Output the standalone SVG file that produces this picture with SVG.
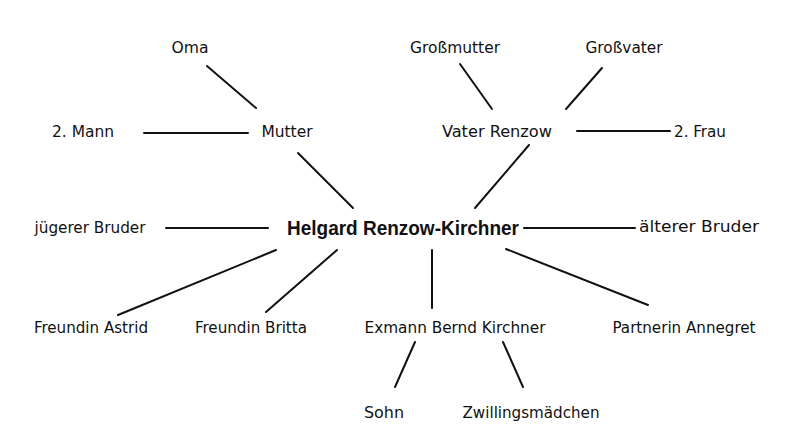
<svg xmlns="http://www.w3.org/2000/svg" width="785" height="448" viewBox="0 0 785 448">
<style>
text{font-family:"DejaVu Sans Condensed","Liberation Sans Narrow","Liberation Sans",sans-serif;font-stretch:condensed;font-size:16px;fill:#111;text-anchor:middle}
text.main{font-family:"Liberation Sans","DejaVu Sans",sans-serif;font-stretch:normal;font-weight:bold;font-size:20px}
line{stroke:#111;stroke-width:2;stroke-linecap:round}
</style>
<rect width="785" height="448" fill="#fff"/>
<g id="connectors">
<line x1="207" y1="66" x2="256" y2="108"/>
<line x1="460" y1="64" x2="492" y2="109"/>
<line x1="602" y1="68" x2="566" y2="109"/>
<line x1="144" y1="133" x2="248" y2="133"/>
<line x1="577" y1="131" x2="670" y2="131"/>
<line x1="298" y1="153" x2="353" y2="208"/>
<line x1="529" y1="145" x2="475" y2="208"/>
<line x1="166" y1="228" x2="268" y2="228"/>
<line x1="524" y1="228" x2="635" y2="228"/>
<line x1="276" y1="250" x2="118" y2="315"/>
<line x1="337" y1="250" x2="266" y2="312"/>
<line x1="432" y1="250" x2="432" y2="308"/>
<line x1="506" y1="249" x2="648" y2="305"/>
<line x1="415" y1="342" x2="395" y2="387"/>
<line x1="503" y1="342" x2="523" y2="387"/>
</g>
<g id="oma"><text x="190" y="53" textLength="37" lengthAdjust="spacingAndGlyphs">Oma</text></g>
<g id="grossmutter"><text x="455" y="53" textLength="90" lengthAdjust="spacingAndGlyphs">Großmutter</text></g>
<g id="grossvater"><text x="624" y="53" textLength="77" lengthAdjust="spacingAndGlyphs">Großvater</text></g>
<g id="mann2"><text x="83" y="137" textLength="62" lengthAdjust="spacingAndGlyphs">2. Mann</text></g>
<g id="mutter"><text x="287" y="137" textLength="51" lengthAdjust="spacingAndGlyphs">Mutter</text></g>
<g id="vater"><text x="497" y="137" textLength="110" lengthAdjust="spacingAndGlyphs">Vater Renzow</text></g>
<g id="frau2"><text x="700" y="137" textLength="52" lengthAdjust="spacingAndGlyphs">2. Frau</text></g>
<g id="juengerer"><text x="90" y="233" textLength="111" lengthAdjust="spacingAndGlyphs">jügerer Bruder</text></g>
<g id="helgard"><text class="main" x="403" y="235" textLength="232" lengthAdjust="spacingAndGlyphs">Helgard Renzow-Kirchner</text></g>
<g id="aelterer"><text x="699" y="232" textLength="120" lengthAdjust="spacingAndGlyphs">älterer Bruder</text></g>
<g id="astrid"><text x="91" y="333" textLength="114" lengthAdjust="spacingAndGlyphs">Freundin Astrid</text></g>
<g id="britta"><text x="251" y="333" textLength="112" lengthAdjust="spacingAndGlyphs">Freundin Britta</text></g>
<g id="exmann"><text x="455" y="333" textLength="181" lengthAdjust="spacingAndGlyphs">Exmann Bernd Kirchner</text></g>
<g id="annegret"><text x="684" y="333" textLength="143" lengthAdjust="spacingAndGlyphs">Partnerin Annegret</text></g>
<g id="sohn"><text x="384" y="418" textLength="40" lengthAdjust="spacingAndGlyphs">Sohn</text></g>
<g id="zwillinge"><text x="531" y="418" textLength="137" lengthAdjust="spacingAndGlyphs">Zwillingsmädchen</text></g>
</svg>
